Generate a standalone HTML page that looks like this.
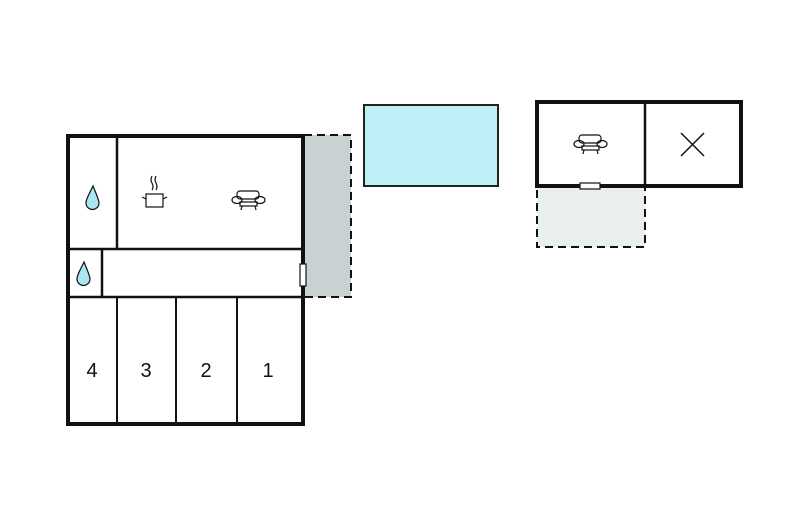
<!DOCTYPE html>
<html><head><style>body{margin:0;background:#fff}</style></head><body>
<svg width="800" height="509" viewBox="0 0 800 509" xmlns="http://www.w3.org/2000/svg">
<rect x="304" y="135" width="47" height="162" fill="#c9d2d3" stroke="#111" stroke-width="2" stroke-dasharray="8,5"/>
<rect x="537" y="187" width="108" height="60" fill="#e9efef" stroke="#111" stroke-width="2" stroke-dasharray="8,5"/>
<rect x="364" y="105" width="134" height="81" fill="#bff0f8" stroke="#222" stroke-width="2"/>
<g fill="none" stroke="#111">
<rect x="68" y="136" width="235" height="288" stroke-width="4"/>
<line x1="68" y1="249" x2="303" y2="249" stroke-width="2.5"/>
<line x1="117" y1="136" x2="117" y2="249" stroke-width="2.5"/>
<line x1="102" y1="249" x2="102" y2="297" stroke-width="2.5"/>
<line x1="68" y1="297" x2="303" y2="297" stroke-width="2.5"/>
<line x1="117" y1="297" x2="117" y2="424" stroke-width="2"/>
<line x1="176" y1="297" x2="176" y2="424" stroke-width="2"/>
<line x1="237" y1="297" x2="237" y2="424" stroke-width="2"/>
<rect x="537" y="102" width="204" height="84" stroke-width="4"/>
<line x1="645" y1="102" x2="645" y2="186" stroke-width="2.5"/>
<line x1="681" y1="133" x2="704" y2="156" stroke-width="1.5"/>
<line x1="704" y1="133" x2="681" y2="156" stroke-width="1.5"/>
</g>
<rect x="300" y="264" width="6" height="22" fill="#fff" stroke="#111" stroke-width="1.2"/>
<rect x="580" y="183" width="20" height="6" fill="#fff" stroke="#111" stroke-width="1.2"/>
<g fill="#a9e6f2" stroke="#111" stroke-width="1.2">
<path d="M93 186 C88 196 86 200 86 203 A6.5 6.5 0 0 0 99 203 C99 200 97 196 93 186Z"/>
<path d="M84 262 C79 272 77 276 77 279 A6.5 6.5 0 0 0 90 279 C90 276 88 272 84 262Z"/>
</g>
<g fill="none" stroke="#111" stroke-width="1.2">
<rect x="146" y="194" width="17" height="13"/>
<path d="M142 197 l4 2 M167 197 l-4 2 M152 176 q-2 4 0 7 q2 4 0 7 M156 176 q-2 4 0 7 q2 4 0 7"/>
<g id="sofa"><rect x="237" y="191" width="22" height="8" rx="3"/><ellipse cx="237" cy="200" rx="5" ry="3.5"/><ellipse cx="260" cy="200" rx="5" ry="3.5"/><rect x="240" y="202" width="17" height="4"/><path d="M242 206 l-1 4 M255 206 l1 4"/></g>
<use href="#sofa" transform="translate(342 -56)"/>
</g>
<g font-family="Liberation Sans, sans-serif" font-size="20" text-anchor="middle" fill="#111">
<text x="92" y="377">4</text><text x="146" y="377">3</text><text x="206" y="377">2</text><text x="268" y="377">1</text>
</g>
</svg>
</body></html>
